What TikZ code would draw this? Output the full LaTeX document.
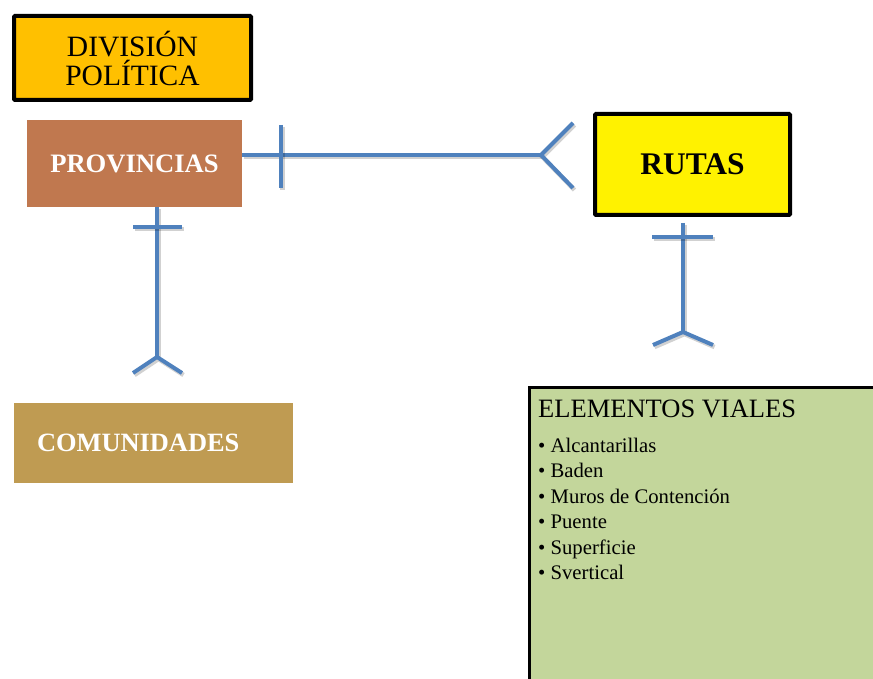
\documentclass[tikz,border=0pt]{standalone}
\usepackage{fontspec}
\setmainfont{Liberation Serif}
\definecolor{connblue}{HTML}{4F81BD}
\definecolor{divorange}{HTML}{FFC000}
\definecolor{provbrown}{HTML}{C0784F}
\definecolor{combrown}{HTML}{BF9B52}
\definecolor{elemgreen}{HTML}{C3D69B}
\begin{document}
\begin{tikzpicture}[x=1pt,y=-1pt,
  conn/.style={draw=connblue,line width=4pt,
    preaction={draw=black,opacity=0.18,line width=4.5pt,transform canvas={shift={(1.5pt,-2pt)}}}},
  boxed/.style={draw=black,line width=4pt,rounded corners=1pt,inner sep=0pt},
  plain/.style={inner sep=0pt},
  item/.style={inner sep=0pt,anchor=base west,font=\fontsize{20.7}{25}\selectfont},
]
\useasboundingbox (0,0) rectangle (873,679);
% boxes
\node[boxed,fill=divorange,minimum width=237pt,minimum height=84pt,align=center,
      font=\fontsize{29.5}{29}\selectfont] (div) at (132.5,58) {DIVISIÓN\\POLÍTICA};
\node[plain,fill=provbrown,minimum width=215pt,minimum height=87pt,text=white,
      font=\fontsize{26.6}{29}\selectfont\bfseries] (prov) at (134.5,163.5) {PROVINCIAS};
\node[boxed,fill=yellow,minimum width=195pt,minimum height=101pt,
      font=\fontsize{31.5}{34}\selectfont\bfseries] (rutas) at (692.5,164.5) {RUTAS};
\node[plain,fill=combrown,minimum width=279pt,minimum height=80pt,text=white,
      text width=233pt,align=left,inner xsep=23pt,
      font=\fontsize{26.4}{29}\selectfont\bfseries] (com) at (153.5,443) {COMUNIDADES};
% elementos viales box
\fill[elemgreen] (529,387) rectangle (873,679);
\draw[black,line width=3pt] (529,680) -- (529,387) -- (874,387);
\node[plain,anchor=base west,font=\fontsize{26.5}{30}\selectfont] (elem) at (538,417) {ELEMENTOS VIALES};
\node[item] (i1) at (538,452.0) {• Alcantarillas};
\node[item] (i2) at (538,477.5) {• Baden};
\node[item] (i3) at (538,503.0) {• Muros de Contención};
\node[item] (i4) at (538,528.5) {• Puente};
\node[item] (i5) at (538,554.0) {• Superficie};
\node[item] (i6) at (538,579.5) {• Svertical};
% connector PROVINCIAS -- RUTAS
\coordinate (jpr) at (541,155);
\draw[conn] (prov.east |- jpr) -- (jpr);
\draw[conn] (573,123) -- (jpr) -- (573,188);
\draw[conn] (281,125) -- (281,188);
% connector PROVINCIAS -- COMUNIDADES
\coordinate (jpc) at (157,357);
\draw[conn] (prov.south -| jpc) -- (jpc);
\draw[conn] (133,373) -- (jpc) -- (182,373);
\draw[conn] (133,227) -- (182,227);
% connector RUTAS -- ELEMENTOS
\coordinate (jre) at (683,332);
\draw[conn] (683,223) -- (jre);
\draw[conn] (653,345) -- (jre) -- (713,345);
\draw[conn] (652,237) -- (713,237);
\end{tikzpicture}
\end{document}
